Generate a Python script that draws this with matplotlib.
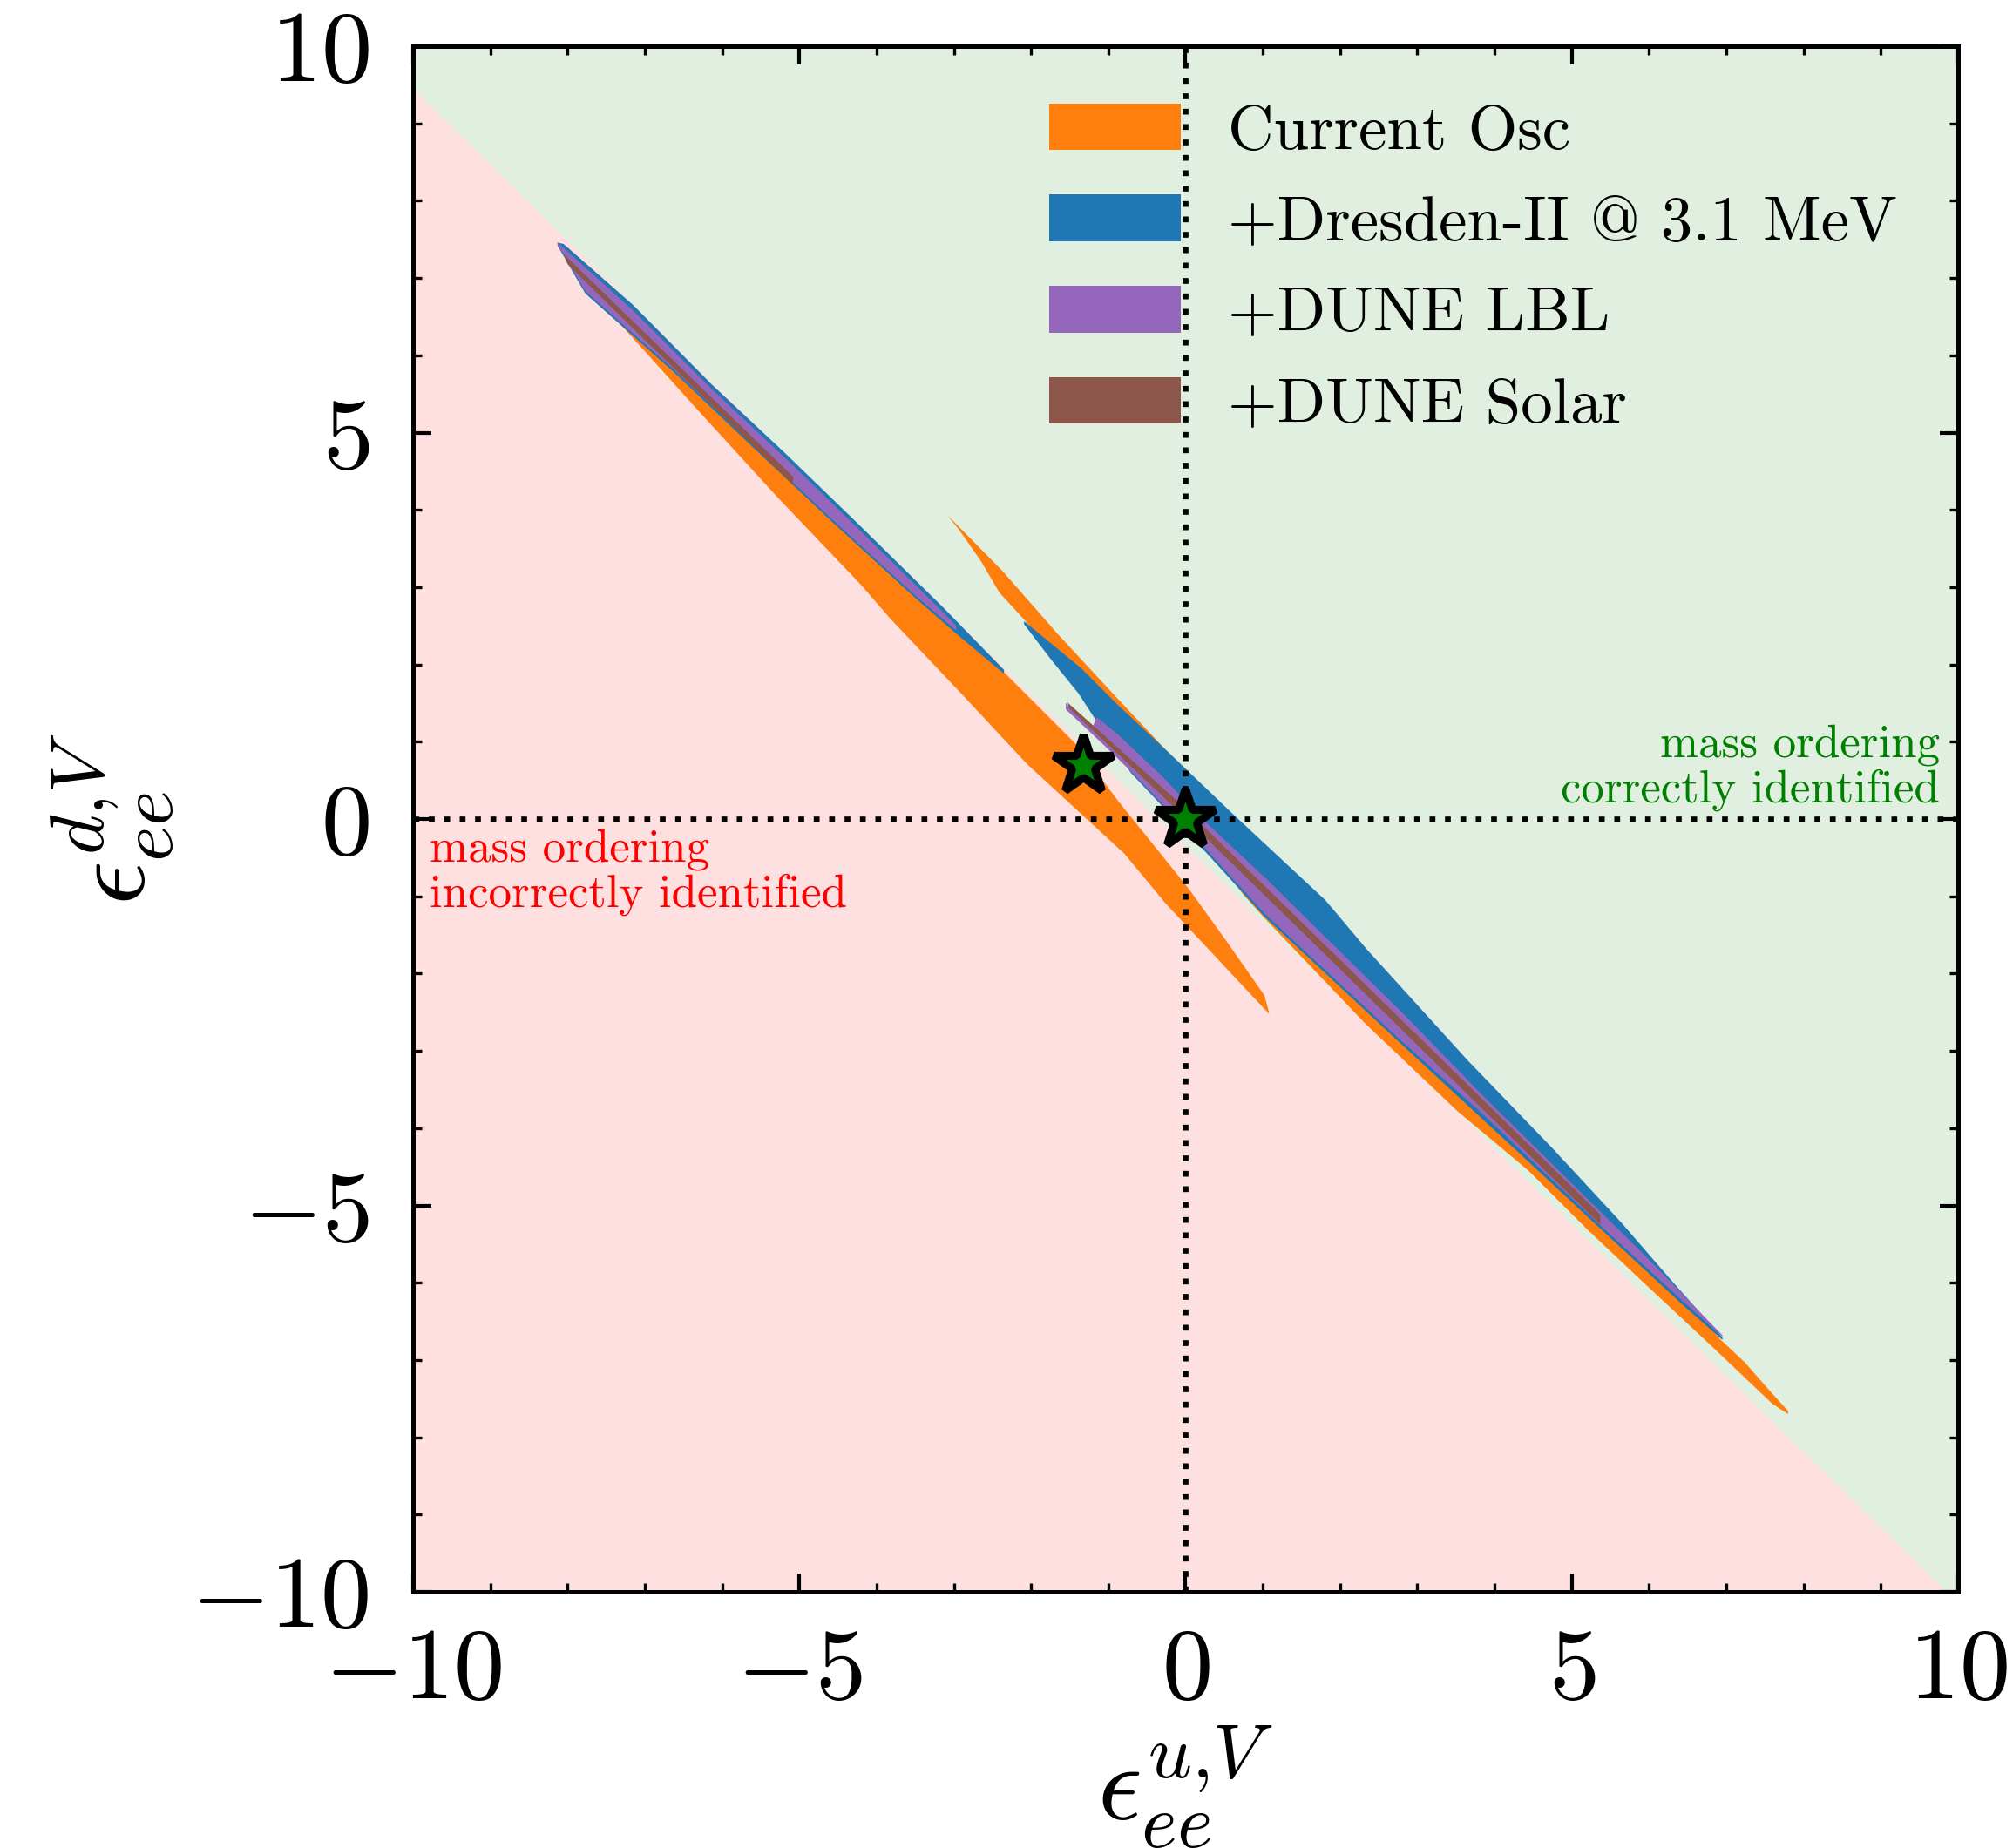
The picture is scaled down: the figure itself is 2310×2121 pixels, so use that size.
import matplotlib
matplotlib.use("Agg")
import matplotlib.pyplot as plt
from matplotlib.patches import Patch

plt.rcParams['font.family'] = ['cmr10', 'DejaVu Serif']
plt.rcParams['mathtext.fontset'] = 'cm'
plt.rcParams['axes.formatter.use_mathtext'] = True
plt.rcParams['axes.unicode_minus'] = True

# boundary between the two mass-ordering regions
boundary_x = [-10, 9.85, 10]
boundary_y = [9.45, -10, -10]

# Current Osc: lower-left band (upper / lower edges, left to right)
osc_a_top = [(-8.10, 7.40), (-7.77, 6.95), (-6.62, 5.85), (-5.61, 4.88), (-4.59, 3.92),
             (-3.52, 2.93), (-2.97, 2.44), (-2.33, 1.88), (-1.43, 0.98), (-0.87, 0.23),
             (0.04, -0.90), (0.53, -1.58), (1.02, -2.28), (1.08, -2.50)]
osc_a_bot = [(-8.10, 7.40), (-7.79, 6.84), (-7.34, 6.43), (-6.34, 5.32), (-5.27, 4.15),
             (-4.21, 3.04), (-3.82, 2.59), (-2.90, 1.62), (-2.05, 0.71), (-0.79, -0.45),
             (-0.26, -1.09), (1.08, -2.52)]
# Current Osc: upper-right band
osc_b_top = [(-3.08, 3.93), (-2.37, 3.21), (-1.66, 2.40), (-0.90, 1.58), (-0.26, 0.90),
             (0.64, 0.02), (1.81, -1.08), (2.35, -1.71), (3.65, -3.14), (4.74, -4.27),
             (5.64, -5.24), (6.28, -5.98), (6.92, -6.73), (7.24, -7.03), (7.52, -7.35),
             (7.80, -7.66)]
osc_b_bot = [(-3.08, 3.93), (-2.93, 3.74), (-2.65, 3.34), (-2.41, 2.93), (-2.07, 2.56),
             (-1.39, 1.72), (-0.71, 0.72), (0.30, -0.38), (0.75, -0.98), (1.02, -1.28),
             (2.33, -2.65), (3.52, -3.78), (4.44, -4.55), (5.19, -5.30), (5.91, -5.98),
             (6.81, -6.82), (7.60, -7.57), (7.80, -7.70)]

# +Dresden-II
dres_a_top = [(-8.13, 7.46), (-8.05, 7.44), (-7.15, 6.65), (-6.13, 5.62), (-5.19, 4.74),
              (-4.27, 3.85), (-3.14, 2.74), (-2.35, 1.93)]
dres_a_bot = [(-8.13, 7.42), (-7.77, 6.80), (-6.62, 5.78), (-5.61, 4.82), (-4.59, 3.86),
              (-3.52, 2.88), (-2.97, 2.40), (-2.35, 1.88)]
dres_b_top = [(-2.09, 2.56), (-1.35, 1.95), (-0.87, 1.47), (-0.26, 0.90), (0.64, 0.04),
              (1.81, -1.05), (2.35, -1.69), (3.65, -3.12), (4.74, -4.25), (5.64, -5.22),
              (6.28, -5.96), (6.95, -6.71)]
dres_b_bot = [(-2.09, 2.52), (-1.73, 2.05), (-1.39, 1.63), (-1.05, 1.11), (-0.71, 0.60),
              (0.30, -0.47), (1.02, -1.26), (2.77, -2.89), (4.36, -4.36), (5.37, -5.30),
              (6.44, -6.29), (6.95, -6.74)]

# +DUNE LBL
lbl_a_top = [(-8.13, 7.46), (-7.15, 6.58), (-6.13, 5.56), (-5.19, 4.68), (-4.27, 3.79),
             (-3.14, 2.68), (-2.97, 2.50)]
lbl_a_bot = [(-8.13, 7.44), (-7.77, 6.83), (-6.62, 5.81), (-5.61, 4.85), (-4.59, 3.89),
             (-3.52, 2.91), (-2.97, 2.44)]
lbl_b_top = [(-1.55, 1.50), (-1.20, 1.20), (-1.15, 1.32), (-0.87, 1.09), (-0.30, 0.55),
             (0.26, -0.04), (1.02, -0.75), (2.86, -2.56), (3.84, -3.57), (5.97, -5.67),
             (6.95, -6.68)]
lbl_b_bot = [(-1.55, 1.42), (-1.05, 0.95), (-0.71, 0.62), (0.30, -0.43), (1.02, -1.22),
             (2.77, -2.85), (3.84, -3.81), (5.37, -5.26), (6.44, -6.24), (6.95, -6.70)]

# +DUNE Solar
sol_a_top = [(-8.05, 7.31), (-5.08, 4.43)]
sol_a_bot = [(-8.00, 7.18), (-5.08, 4.32)]
sol_b_top = [(-1.53, 1.51), (-0.08, 0.21), (1.58, -1.41), (5.37, -5.12)]
sol_b_bot = [(-1.50, 1.43), (-0.08, 0.09), (1.58, -1.53), (5.37, -5.25)]

# best-fit points
star_x = [-1.33, 0.0]
star_y = [0.70, 0.0]

labels = ['Current Osc', '+Dresden-II @ 3.1 MeV', '+DUNE LBL', '+DUNE Solar']
colors = ['#ff7f0e', '#1f77b4', '#9467bd', '#8c564b']
ticks = [-10, -5, 0, 5, 10]


def band(top, bot):
    pts = list(top) + list(reversed(bot))
    return [p[0] for p in pts], [p[1] for p in pts]


fig = plt.figure(figsize=(7.7, 7.07), dpi=300)
ax = fig.add_axes([0.2052, 0.1386, 0.7675, 0.8364])

ax.fill_between(boundary_x, boundary_y, 10, color='green', alpha=0.12, lw=0, zorder=0)
ax.fill_between(boundary_x, -10, boundary_y, color='red', alpha=0.12, lw=0, zorder=0)

regions = [
    [(osc_a_top, osc_a_bot), (osc_b_top, osc_b_bot)],
    [(dres_a_top, dres_a_bot), (dres_b_top, dres_b_bot)],
    [(lbl_a_top, lbl_a_bot), (lbl_b_top, lbl_b_bot)],
    [(sol_a_top, sol_a_bot), (sol_b_top, sol_b_bot)],
]
for i, (parts, c) in enumerate(zip(regions, colors)):
    for top, bot in parts:
        xs, ys = band(top, bot)
        ax.fill(xs, ys, color=c, lw=0, zorder=1 + i)

ax.axvline(0, color='k', lw=1.6, ls=':', zorder=6)
ax.axhline(0, color='k', lw=1.6, ls=':', zorder=6)

ax.plot(star_x, star_y, ls='none', marker='*', ms=17, mfc='green', mec='k', mew=2.2, zorder=7)

ax.text(-9.79, -0.12, 'mass ordering\nincorrectly identified', color='red',
        ha='left', va='top', fontsize=12.7, linespacing=1.1, zorder=8)
ax.text(9.76, 0.10, 'mass ordering\ncorrectly identified', color='green',
        ha='right', va='bottom', fontsize=12.7, linespacing=1.1, zorder=8)

handles = [Patch(facecolor=c, edgecolor='none') for c in colors]
ax.legend(handles, labels, loc='upper left', bbox_to_anchor=(0.412, 0.963), frameon=False,
          fontsize=17.5, borderpad=0, borderaxespad=0, handlelength=2.06, handleheight=0.75,
          handletextpad=0.75, labelspacing=0.53)

ax.set_xlim(-10, 10)
ax.set_ylim(-10, 10)
ax.set_xticks(ticks)
ax.set_yticks(ticks)
ax.set_xticks(range(-10, 11), minor=True)
ax.set_yticks(range(-10, 11), minor=True)
ax.tick_params(which='both', direction='in', top=True, right=True, labelsize=28)
ax.tick_params(which='major', length=5, width=1.0)
ax.tick_params(which='minor', length=2.5, width=0.8)
ax.tick_params(axis='x', pad=10)
ax.tick_params(axis='y', pad=12)
for s in ax.spines.values():
    s.set_linewidth(1.2)

ax.set_xlabel(r'$\epsilon_{ee}^{u{,}V}$', fontsize=30, labelpad=2)
ax.set_ylabel(r'$\epsilon_{ee}^{d{,}V}$', fontsize=30, labelpad=4)

fig.savefig('out.png', dpi=300)
